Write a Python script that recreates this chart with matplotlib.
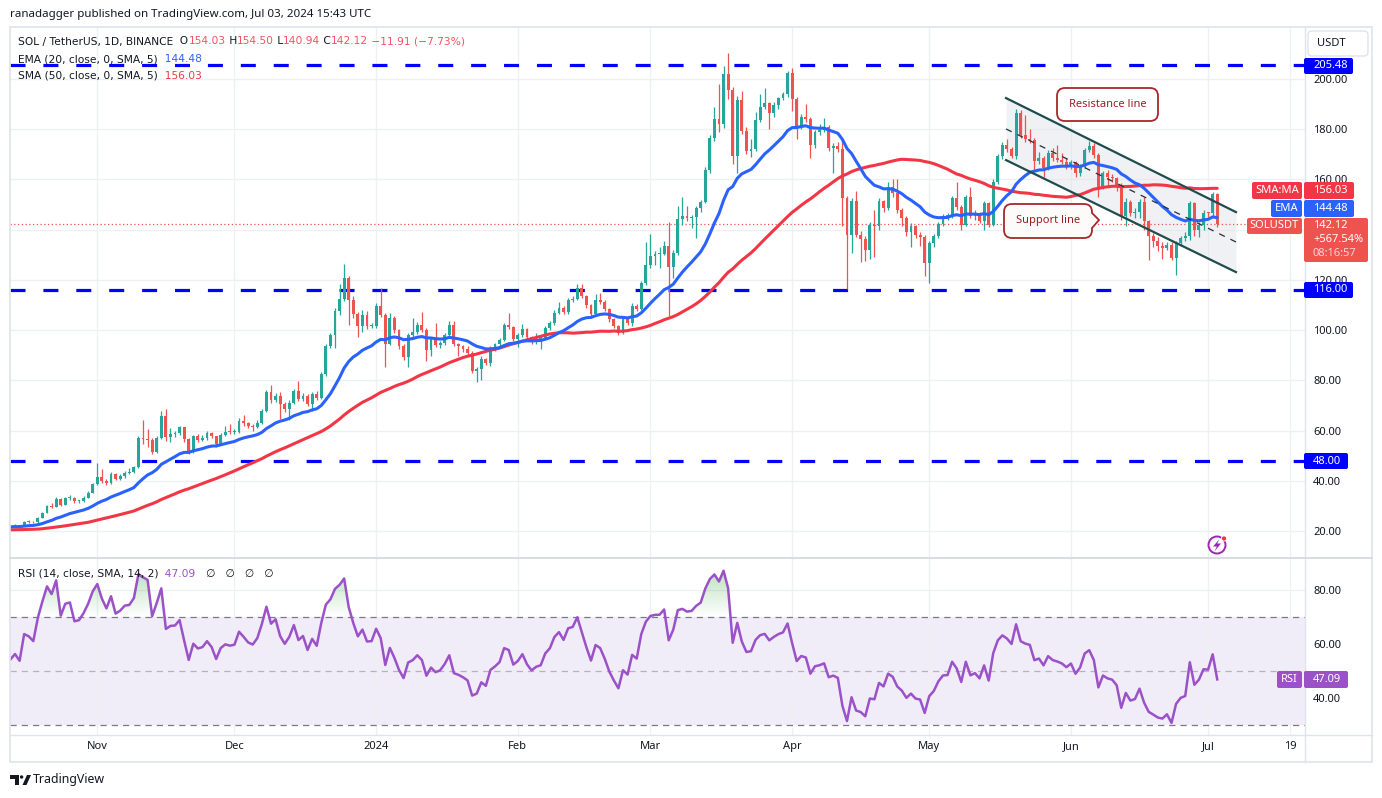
import numpy as np
import pandas as pd
import matplotlib

matplotlib.use("Agg")
import matplotlib.pyplot as plt
from matplotlib.patches import Rectangle, FancyBboxPatch, Polygon, Circle, PathPatch
from matplotlib.path import Path
from matplotlib.colors import to_rgba

plt.rcParams["font.family"] = ["Noto Sans", "DejaVu Sans"]

# ---------- data (SOL/USDT daily) ----------
START = "2023-10-13"
first_open = 21.6

close = [
    # Oct 2023
    22.0, 22.3, 22.0, 23.7, 23.6, 23.4, 25.3, 27.3, 30.0, 29.6, 32.9, 30.5, 33.0, 33.3, 31.8, 32.0, 33.3, 35.3, 38.7,
    # Nov
    41.3, 40.0, 39.1, 42.7, 40.9, 41.7, 43.1, 43.3, 45.3, 57.1, 56.7, 56.4, 51.6, 57.1, 65.7, 57.3, 58.7, 58.9, 61.3, 56.7,
    51.6, 57.7, 56.4, 56.9, 59.1, 57.7, 54.7, 58.3, 59.6, 59.3,
    # Dec
    59.6, 63.9, 62.9, 61.8, 61.4, 63.2, 67.8, 75.3, 72.0, 73.9, 70.4, 68.7, 71.1, 75.7, 72.4, 73.9, 70.7, 74.6, 73.0, 82.5,
    93.7, 97.9, 107.8, 112.4, 120.7, 112.1, 106.6, 101.6, 106.2, 101.6, 101.8,
    # Jan 2024
    109.7, 106.2, 94.6, 104.9, 100.0, 93.7, 89.1, 97.9, 99.3, 102.2, 100.0, 92.1, 96.3, 94.0, 94.9, 97.9, 102.2, 94.3, 93.5,
    92.4, 91.0, 83.8, 84.5, 88.5, 87.0, 92.9, 94.3, 96.0, 101.9, 101.3, 96.5,
    # Feb
    97.9, 100.5, 97.3, 95.3, 96.5, 97.0, 100.9, 102.7, 107.0, 109.0, 107.2, 111.9, 112.5, 116.9, 113.6, 109.9, 106.3, 112.0,
    111.2, 108.3, 104.5, 101.6, 98.9, 104.3, 102.9, 109.6, 108.5, 118.9, 125.9,
    # Mar
    129.6, 130.3, 130.4, 133.6, 125.3, 130.9, 144.3, 145.3, 144.5, 145.0, 148.6, 151.0, 163.8, 176.4, 184.1, 182.0, 201.9,
    195.6, 169.5, 191.7, 179.1, 171.4, 172.2, 183.7, 188.9, 190.3, 186.4, 189.7, 192.3, 193.9, 202.4,
    # Apr
    192.1, 181.1, 185.0, 184.1, 173.8, 178.8, 179.5, 180.7, 172.5, 173.4, 172.1, 152.8, 138.0, 151.3, 138.0, 136.3, 131.8,
    142.0, 141.3, 151.3, 148.6, 156.8, 154.6, 147.7, 144.6, 139.1, 141.3, 137.7, 137.0, 126.8,
    # May
    134.7, 137.3, 142.2, 145.3, 145.5, 152.5, 149.2, 142.0, 152.9, 145.3, 146.5, 143.6, 150.5, 142.0, 159.1, 169.4, 173.7,
    172.1, 169.4, 186.6, 177.6, 176.3, 175.6, 167.3, 168.4, 164.7, 170.4, 168.4, 167.7, 166.8, 165.1,
    # Jun
    166.8, 162.4, 165.1, 171.7, 173.4, 169.7, 157.1, 162.4, 161.0, 160.4, 157.8, 145.3, 151.2, 146.6, 147.2, 151.2, 143.3,
    137.3, 135.4, 133.4, 132.7, 134.0, 128.7, 134.7, 136.7, 137.3, 150.5, 139.7, 142.0, 146.8,
    # Jul
    146.6, 154.03, 142.12,
]

high = [
    22.4, 22.6, 22.5, 24.0, 24.4, 24.1, 25.6, 27.7, 30.5, 31.2, 33.4, 33.0, 33.5, 34.4, 33.5, 32.5, 33.8, 35.9, 39.2,
    47.0, 44.5, 40.6, 43.3, 43.0, 42.6, 43.8, 44.9, 45.9, 57.8, 64.3, 60.7, 57.0, 58.0, 67.6, 68.7, 61.0, 60.0, 62.0, 61.6,
    57.2, 58.2, 58.6, 58.4, 59.7, 59.6, 58.0, 58.9, 62.0, 62.6,
    60.6, 64.8, 66.0, 63.6, 62.6, 64.0, 68.5, 76.2, 78.2, 75.0, 75.3, 71.5, 72.0, 76.4, 79.6, 74.8, 74.4, 75.3, 75.6, 83.3,
    94.5, 99.0, 109.0, 118.3, 126.3, 121.5, 113.5, 107.2, 108.0, 107.5, 103.0,
    110.8, 116.7, 106.8, 106.8, 105.6, 100.5, 94.5, 98.8, 104.9, 103.2, 107.2, 100.8, 97.2, 102.9, 95.8, 98.8, 103.6, 103.8,
    95.0, 94.2, 93.5, 91.5, 85.5, 89.5, 89.0, 93.6, 95.0, 97.0, 102.8, 106.7, 101.8,
    99.0, 102.4, 100.9, 97.8, 99.0, 98.2, 101.6, 103.5, 108.0, 111.0, 109.6, 112.6, 113.4, 118.5, 118.5, 114.0, 110.4, 114.5,
    114.8, 111.8, 108.8, 105.0, 102.0, 105.0, 104.8, 110.9, 110.2, 119.6, 134.9,
    138.3, 131.5, 133.0, 135.6, 142.9, 131.8, 149.3, 152.9, 149.3, 146.0, 149.6, 152.0, 164.8, 177.5, 189.0, 197.9, 205.3,
    210.2, 197.0, 193.4, 195.2, 181.0, 176.0, 186.8, 193.9, 196.6, 191.0, 190.8, 193.0, 195.0, 203.2,
    204.5, 193.0, 186.0, 190.0, 185.0, 179.8, 182.0, 184.6, 181.5, 174.5, 175.0, 175.8, 153.5, 152.5, 155.5, 139.5, 137.5,
    143.0, 148.0, 152.5, 152.0, 158.9, 160.0, 160.0, 148.5, 145.5, 142.5, 142.0, 139.0, 138.0,
    135.6, 138.2, 143.0, 146.2, 146.8, 153.5, 159.1, 149.8, 154.0, 157.0, 148.0, 147.2, 151.5, 151.0, 160.0, 170.2, 175.0,
    176.0, 173.0, 188.2, 187.5, 185.5, 180.0, 176.5, 170.8, 169.5, 171.7, 172.5, 173.7, 170.5, 168.5,
    167.8, 167.5, 166.0, 172.5, 175.2, 174.7, 170.5, 163.5, 163.8, 162.0, 161.0, 158.5, 152.5, 151.8, 148.5, 152.2, 153.0,
    144.0, 138.5, 137.0, 135.0, 135.0, 135.0, 135.6, 137.6, 139.0, 151.5, 151.2, 143.0, 147.8,
    147.2, 154.9, 154.50,
]

low = [
    21.3, 21.8, 21.7, 21.9, 23.1, 23.0, 23.3, 25.0, 27.0, 29.0, 29.4, 30.0, 30.2, 32.5, 31.2, 31.3, 31.7, 33.0, 35.0,
    38.3, 39.3, 38.2, 38.8, 40.2, 40.5, 41.0, 42.6, 42.9, 45.0, 54.5, 53.5, 50.5, 51.0, 56.5, 55.8, 55.3, 57.6, 58.4, 55.6,
    50.8, 51.2, 55.5, 55.9, 56.4, 57.0, 53.6, 54.3, 57.8, 58.6,
    58.8, 59.2, 61.8, 60.9, 60.0, 61.0, 62.8, 67.4, 71.0, 71.2, 64.5, 67.5, 64.1, 70.6, 71.6, 71.8, 69.9, 67.8, 72.2, 72.7,
    81.8, 92.8, 92.8, 106.0, 111.5, 102.2, 104.8, 97.4, 99.2, 100.6, 100.8,
    101.0, 105.2, 85.5, 94.0, 99.0, 92.5, 88.0, 85.5, 97.0, 98.6, 99.2, 87.8, 89.7, 93.2, 93.0, 94.2, 97.0, 93.5, 89.7,
    91.2, 90.0, 82.8, 79.5, 80.0, 86.0, 85.6, 91.8, 93.5, 95.5, 100.6, 95.8,
    93.2, 97.2, 96.4, 94.6, 94.5, 92.3, 96.4, 100.2, 102.0, 106.3, 106.4, 106.5, 111.0, 112.0, 112.8, 109.0, 104.9, 105.8,
    110.2, 107.5, 103.2, 100.8, 98.2, 98.5, 102.0, 101.5, 107.5, 108.0, 118.0,
    124.8, 126.0, 124.8, 129.8, 105.6, 120.9, 130.0, 142.0, 143.6, 140.6, 136.6, 147.0, 150.5, 162.5, 175.5, 178.8, 180.5,
    192.0, 166.1, 162.5, 178.0, 170.0, 169.0, 171.5, 183.0, 188.0, 180.2, 185.0, 188.0, 191.5, 193.0,
    187.3, 176.0, 180.0, 183.0, 168.5, 172.5, 177.5, 179.0, 171.5, 162.5, 171.0, 141.3, 116.2, 130.7, 137.0, 127.0, 127.5,
    128.2, 129.0, 140.0, 147.2, 148.0, 153.0, 146.5, 141.3, 137.5, 133.0, 136.5, 133.3, 121.5,
    118.8, 133.0, 136.7, 141.5, 144.0, 144.6, 148.0, 140.0, 141.3, 144.5, 144.0, 142.5, 140.0, 141.0, 141.5, 158.0, 168.0,
    171.0, 168.5, 168.0, 176.5, 175.0, 174.5, 163.8, 166.0, 161.0, 163.8, 167.5, 167.0, 166.0, 164.0,
    164.0, 161.0, 161.5, 164.5, 171.0, 168.5, 153.2, 156.0, 157.5, 159.0, 155.5, 144.0, 141.5, 145.5, 144.5, 144.8, 140.0,
    128.1, 133.0, 131.5, 128.5, 131.8, 128.0, 122.1, 133.5, 135.5, 136.0, 137.5, 137.0, 140.0,
    145.0, 145.2, 140.94,
]

# closes before the first visible bar (Aug 25 - Oct 12 2023), only feed the indicators
prior_close = [
    21.0, 21.0, 20.9, 20.8, 21.9, 21.0, 20.0,
    19.4, 19.6, 19.8, 19.4, 19.7, 19.6, 19.3, 18.9, 19.1, 18.4,
    17.7, 18.3, 18.7, 19.0, 19.2, 19.1, 18.6, 19.3, 20.3, 20.4,
    19.7, 19.2, 19.3, 19.2, 19.3, 19.3, 19.9, 21.3, 21.0, 21.2,
    23.6, 23.3, 23.8, 22.9, 22.6, 23.2, 23.3, 22.9, 22.0, 21.9, 21.1, 21.2,
]

levels = [205.48, 116.0, 48.0]
level_labels = ["205.48", "116.00", "48.00"]

# descending channel drawn on the chart (bar index, price)
channel_x = [217.8, 268.1]
resist_y = [192.4, 147.0]
support_y = [167.7, 123.1]
mid_y = [180.1, 135.1]

tick_dates = ["2023-11-01", "2023-12-01", "2024-01-01", "2024-02-01", "2024-03-01",
              "2024-04-01", "2024-05-01", "2024-06-01", "2024-07-01", "2024-07-19"]
tick_text = ["Nov", "Dec", "2024", "Feb", "Mar", "Apr", "May", "Jun", "Jul", "19"]

# price scale; 140 sits under the last-price tags so it has no visible label
price_ticks = [20, 40, 60, 80, 100, 120, 140, 160, 180, 200]
price_tick_text = ["20.00", "40.00", "60.00", "80.00", "100.00", "120.00", "", "160.00", "180.00", "200.00"]

# ---------- indicators ----------
dates = pd.date_range(START, periods=len(close), freq="D")
x = np.arange(len(close))
c = np.array(close)
o = np.r_[first_open, c[:-1]]
hi = np.array(high)
lo = np.array(low)

full = pd.Series(prior_close + close)
npre = len(prior_close)
ema = full.ewm(span=20, adjust=False).mean().values[npre:]
sma = full.rolling(50, min_periods=1).mean().values[npre:]
d = full.diff()
g = d.clip(lower=0).ewm(alpha=1 / 14, adjust=False).mean()
l_ = (-d.clip(upper=0)).ewm(alpha=1 / 14, adjust=False).mean()
rsi = (100 - 100 / (1 + g / l_)).values[npre:]

tick_pos = [(pd.Timestamp(t) - dates[0]).days for t in tick_dates]

# ---------- figure ----------
W, H = 1382, 798
UP, DOWN = "#26a69a", "#ef5350"
TXT = "#131722"
GRID = "#eef0f4"
PURPLE = "#9b51c8"


def fx(px):
    return px / W


def fy(py):
    return 1 - py / H


fig = plt.figure(figsize=(W / 100, H / 100), dpi=100)
fig.patch.set_facecolor("white")

XL = (-0.1, 283.2)
ax = fig.add_axes([fx(10), fy(558), fx(1305) - fx(10), fy(28) - fy(558)])
rax = fig.add_axes([fx(10), fy(735), fx(1305) - fx(10), fy(558) - fy(735)])

# price pane
ax.fill_between(channel_x, support_y, resist_y, color="#dfe2e7", alpha=0.45, lw=0, zorder=1)
for lv in levels:
    ax.axhline(lv, color="#0000ff", lw=2.3, ls=(0, (4.7, 5.6)), zorder=2)
ax.axhline(close[-1], color="#ef5350", lw=0.9, ls=(0, (1, 2)), zorder=2)

cols = np.where(c >= o, UP, DOWN)
ax.vlines(x, lo, hi, colors=cols, lw=0.9, zorder=3)
body_lo = np.minimum(o, c)
body_h = np.maximum(np.abs(c - o), 0.35)
ax.bar(x, body_h, bottom=body_lo, width=0.64, color=cols, lw=0, zorder=3.2)

ax.plot(x, sma, color="#f23645", lw=2.2, zorder=4, solid_capstyle="round")
ax.plot(x, ema, color="#2962ff", lw=2.2, zorder=4.1, solid_capstyle="round")

ax.plot(channel_x, resist_y, color="#1f4c4c", lw=1.6, zorder=5)
ax.plot(channel_x, support_y, color="#1f4c4c", lw=1.6, zorder=5)
ax.plot(channel_x, mid_y, color="#2a2e39", lw=0.9, ls=(0, (5, 5)), zorder=5)

ax.set_xlim(*XL)
ax.set_ylim(9.24, 220.31)
ax.set_xticks(tick_pos)
ax.set_yticks(price_ticks)
ax.set_yticklabels(price_tick_text)
ax.grid(True, color=GRID, lw=1.0)
ax.set_axisbelow(True)
ax.tick_params(axis="x", length=0, labelbottom=False)
ax.yaxis.tick_right()
ax.tick_params(axis="y", length=0, pad=5.8, labelsize=8, labelcolor=TXT)
for s in ax.spines.values():
    s.set_visible(False)


# RSI pane
def grad_fill(axis, xs, ys, level, far, color, amax):
    above = far > level
    mask = ys > level if above else ys < level
    coll = axis.fill_between(xs, ys, level, where=mask, interpolate=True,
                             facecolor="none", edgecolor="none")
    paths = coll.get_paths()
    if len(paths) == 0:
        return
    clip = Path.make_compound_path(*paths)
    n = 256
    img = np.tile(np.array(to_rgba(color)), (n, 1)).reshape(n, 1, 4)
    img[:, 0, 3] = np.linspace(amax, 0, n) if above else np.linspace(0, amax, n)
    bot, top = (level, far) if above else (far, level)
    im = axis.imshow(img, extent=[xs[0], xs[-1], bot, top], origin="upper",
                     aspect="auto", zorder=2, interpolation="bilinear")
    im.set_clip_path(clip, transform=axis.transData)


rax.axhspan(30, 70, color="#7e57c2", alpha=0.10, lw=0, zorder=0.5)
rax.axhline(70, color="#787b86", lw=0.9, ls=(0, (5, 4)), zorder=1)
rax.axhline(30, color="#787b86", lw=0.9, ls=(0, (5, 4)), zorder=1)
rax.axhline(50, color="#787b86", lw=0.9, alpha=0.5, ls=(0, (5, 4)), zorder=1)
grad_fill(rax, x.astype(float), rsi, 70, 100, "#4caf50", 0.65)
grad_fill(rax, x.astype(float), rsi, 30, 0, "#f23645", 0.65)
rax.plot(x, rsi, color=PURPLE, lw=1.8, zorder=4)

rax.set_xlim(*XL)
rax.set_ylim(26.3, 91.85)
rax.set_xticks(tick_pos)
rax.set_xticklabels(tick_text)
rax.get_xticklabels()[2].set_fontweight("bold")
rax.set_yticks([40, 60, 80])
rax.set_yticklabels(["40.00", "60.00", "80.00"])
rax.grid(True, color=GRID, lw=1.0)
rax.set_axisbelow(True)
rax.yaxis.tick_right()
rax.tick_params(axis="y", length=0, pad=5.8, labelsize=8, labelcolor=TXT)
rax.tick_params(axis="x", length=0, pad=4.5, labelsize=8, labelcolor=TXT)
for s in rax.spines.values():
    s.set_visible(False)

# ---------- overlay in pixel coordinates ----------
ov = fig.add_axes([0, 0, 1, 1], zorder=10)
ov.set_xlim(0, W)
ov.set_ylim(H, 0)
ov.axis("off")

ov.add_patch(Rectangle((10, 27), 1362, 735, fill=False, ec="#e0e3eb", lw=1.2))
ov.plot([1305, 1305], [27, 762], color="#e0e3eb", lw=1.0)
ov.plot([10, 1372], [558, 558], color="#d6d9e0", lw=1.3)
ov.plot([10, 1372], [735, 735], color="#e0e3eb", lw=1.0)

ov.text(10, 14, "ranadagger published on TradingView.com, Jul 03, 2024 15:43 UTC",
        fontsize=8.3, va="center", color=TXT)

LEG_FONT = ["DejaVu Sans"]


def chain(x0, y0, parts, fs=7.7):
    t = ov.text(x0, y0, parts[0][0], color=parts[0][1], fontsize=fs, va="center", ha="left",
                family=LEG_FONT)
    for s, col in parts[1:]:
        t = ov.annotate(s, xy=(1, 0.5), xycoords=t, va="center", ha="left", color=col, fontsize=fs,
                        family=LEG_FONT)
    return t


RED = "#f7525f"
chain(18, 41.5, [("SOL / TetherUS, 1D, BINANCE", TXT), ("  O", TXT), ("154.03", RED), (" H", TXT),
                 ("154.50", RED), (" L", TXT), ("140.94", RED), (" C", TXT), ("142.12", RED),
                 (" \u221211.91 (\u22127.73%)", RED)])
chain(18, 59, [("EMA (20, close, 0, SMA, 5)", TXT), ("  144.48", "#2962ff")])
chain(18, 76, [("SMA (50, close, 0, SMA, 5)", TXT), ("  156.03", "#f23645")])
chain(18, 574, [("RSI (14, close, SMA, 14, 2)", TXT), ("  47.09", PURPLE),
                ("   \u2205   \u2205   \u2205   \u2205", TXT)])


def tag(x0, x1, y0, y1, fc, txt, left=True, fs=8):
    ov.add_patch(FancyBboxPatch((x0, y0), x1 - x0, y1 - y0, boxstyle="round,pad=0,rounding_size=2",
                                fc=fc, ec="none", zorder=5))
    if left:
        ov.text(1313, (y0 + y1) / 2, txt, ha="left", va="center", color="white", fontsize=fs, zorder=6)
    else:
        ov.text((x0 + x1) / 2, (y0 + y1) / 2, txt, ha="center", va="center", color="white",
                fontsize=fs, zorder=6)


tag(1304, 1353, 58, 74, "#0000ff", level_labels[0])
tag(1304, 1353, 282, 298, "#0000ff", level_labels[1])
tag(1304, 1348, 453, 469, "#0000ff", level_labels[2])

tag(1252, 1302, 182, 199, "#f23645", "SMA:MA", left=False)
tag(1304, 1354, 182, 199, "#f23645", "156.03")
tag(1271, 1302, 200, 217, "#2962ff", "EMA", left=False)
tag(1304, 1354, 200, 217, "#2962ff", "144.48")
tag(1247, 1302, 218, 234, "#ef5350", "SOLUSDT", left=False)
ov.add_patch(FancyBboxPatch((1304, 218), 64, 44, boxstyle="round,pad=0,rounding_size=2",
                            fc="#ef5350", ec="none", zorder=5))
ov.text(1313, 226, "142.12", color="white", fontsize=8, va="center", zorder=6)
ov.text(1313, 240, "+567.54%", color="white", fontsize=8, va="center", zorder=6)
ov.text(1313, 254, "08:16:57", color="white", alpha=0.75, fontsize=8, va="center", zorder=6)

tag(1277, 1302, 671, 688, PURPLE, "RSI", left=False)
tag(1304, 1348, 671, 688, PURPLE, "47.09")

ov.add_patch(FancyBboxPatch((1308, 31), 60, 25, boxstyle="round,pad=0,rounding_size=4",
                            fc="white", ec="#e0e3eb", lw=1.0))
ov.text(1317, 44, "USDT", fontsize=8, va="center", color=TXT)

# chart drawings: labels
ov.add_patch(FancyBboxPatch((1057, 88), 101, 33, boxstyle="round,pad=0,rounding_size=8",
                            fc="white", ec="#a8282e", lw=1.3, zorder=5))
ov.text(1107.5, 104.5, "Resistance line", ha="center", va="center", color="#9c1f25",
        fontsize=8, zorder=6)

sv = [(1012, 204), (1084, 204), (1092, 204), (1092, 212), (1092, 213), (1099, 220), (1092, 228),
      (1092, 230), (1092, 238), (1084, 238), (1012, 238), (1004, 238), (1004, 230), (1004, 212),
      (1004, 204), (1012, 204)]
sc = [Path.MOVETO, Path.LINETO, Path.CURVE3, Path.CURVE3, Path.LINETO, Path.LINETO, Path.LINETO,
      Path.LINETO, Path.CURVE3, Path.CURVE3, Path.LINETO, Path.CURVE3, Path.CURVE3, Path.LINETO,
      Path.CURVE3, Path.CURVE3]
ov.add_patch(PathPatch(Path(sv, sc), fc="#fdfafa", ec="#a8282e", lw=1.3, zorder=5))
ov.text(1048, 221, "Support line", ha="center", va="center", color="#9c1f25", fontsize=8, zorder=6)

# lightning icon
ov.add_patch(Circle((1217, 545), 8.5, fc="white", ec="#9c27b0", lw=1.4, zorder=5))
ov.add_patch(Polygon([(1219.5, 539), (1213, 546.5), (1216.8, 546.5), (1214.5, 551.5), (1221, 543.5),
                      (1217.2, 543.5)], closed=True, fc="#9c27b0", ec="none", zorder=6))
ov.add_patch(Circle((1224, 538.5), 2.6, fc="#f23645", ec="white", lw=0.6, zorder=7))

# TradingView logo
ov.add_patch(Polygon([(10, 775), (19, 775), (19, 785), (15, 785), (15, 778.5), (10, 778.5)],
                     closed=True, fc=TXT, ec="none"))
ov.add_patch(Circle((21.6, 777), 1.7, fc=TXT, ec="none"))
ov.add_patch(Polygon([(22.5, 785), (27, 775), (31, 775), (26.5, 785)], closed=True, fc=TXT, ec="none"))
ov.text(33, 780, "TradingView", fontsize=8.9, va="center", color=TXT)

fig.savefig("out.png", dpi=100, facecolor="white")
